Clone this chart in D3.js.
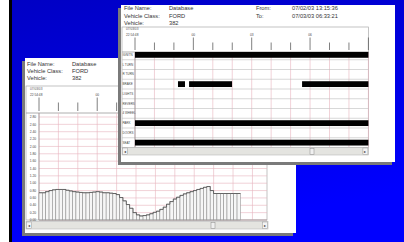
<!DOCTYPE html>
<html><head><meta charset="utf-8">
<script src="https://cdn.jsdelivr.net/npm/d3@7"></script>
<style>
body{margin:0;background:#0000e0;overflow:hidden}
svg{display:block}
text{font-family:"Liberation Sans",Arial,sans-serif}
</style>
</head><body>
<svg id="c" width="404" height="242"></svg>
<script>
// ---------- data ----------
const headerLabels = ["File Name:", "Vehicle Class:", "Vehicle:"];
const headerValues = ["Database", "FORD", "382"];
const rangeLabels = ["From:", "To:"];
const rangeValues = ["07/02/03 13:15:36", "07/03/03 06:33:21"];
const startDate = "07/03/03";
const startTime = "22:54:48";
const hourTicks = [0,1,2,3,4,5,6,7,8,9,10,11,12];
const majorHours = [3, 6, 9];
const majorLabels = ["00", "03", "06"];

// front window: digital channels
const rowLabels = ["IGNITN","L TURN","R TURN","BRAKE","LIGHTS","REVERS","4 WHEEL","PARK","DOORS","SEAT"];
const segRow   = ["IGNITN","BRAKE","BRAKE","BRAKE","PARK","SEAT"];
const segStart = [0, 2.21, 2.78, 8.59, 0, 0];
const segEnd   = [12, 2.57, 4.99, 12, 12, 12];

// back window: analog channel
const yTickLabels = ["2.80","2.60","2.40","2.20","2.00","1.80","1.60","1.40","1.20","1.00","0.80","0.60","0.40","0.20","0.00"];
const yTickValues = [2.8,2.6,2.4,2.2,2.0,1.8,1.6,1.4,1.2,1.0,0.8,0.6,0.4,0.2,0.0];
const sampleHours = 0.173;
const values = [0.74,0.74,0.77,0.80,0.82,0.83,0.83,0.83,0.81,0.79,
                0.77,0.76,0.75,0.74,0.74,0.75,0.76,0.77,0.76,0.74,
                0.74,0.73,0.72,0.69,0.61,0.52,0.42,0.32,0.20,0.14,
                0.11,0.12,0.14,0.17,0.21,0.24,0.29,0.35,0.43,0.50,
                0.57,0.62,0.67,0.71,0.74,0.77,0.80,0.83,0.86,0.89,
                0.91,0.80,0.72,0.72,0.72,0.72,0.72,0.72,0.72,0.72];

// ---------- drawing ----------
const svg = d3.select("#c");
const defs = svg.append("defs");
const grad = defs.append("linearGradient").attr("id","bg").attr("x1",0).attr("y1",0).attr("x2",0.3).attr("y2",1);
grad.append("stop").attr("offset","0%").attr("stop-color","#0000c4");
grad.append("stop").attr("offset","100%").attr("stop-color","#0000ff");
svg.append("rect").attr("width",404).attr("height",242).attr("fill","url(#bg)");
svg.append("rect").attr("x",0).attr("y",0).attr("width",9).attr("height",242).attr("fill","#fff");
svg.append("rect").attr("x",9).attr("y",0).attr("width",3).attr("height",242).attr("fill","#000");

const txtCol = "#333";
const pink = "#e7b4bd";

function header(g, x0, x1, y0) {
  headerLabels.forEach((t,i)=>{
    g.append("text").attr("x",x0).attr("y",y0+i*7.2).attr("font-size",5.7).attr("fill",txtCol).text(t);
    g.append("text").attr("x",x1).attr("y",y0+i*7.2).attr("font-size",5.7).attr("fill",txtCol).text(headerValues[i]);
  });
}

function timeHeader(g, x, left, top, dateY) {
  g.append("text").attr("x",left+4).attr("y",dateY).attr("font-size",3.2).attr("fill","#555").text(startDate);
  g.append("text").attr("x",left+4).attr("y",dateY+6).attr("font-size",3.2).attr("fill","#444").text(startTime);
  hourTicks.forEach(h=>{
    const xx = x(h);
    if (xx > x.range()[1] + 0.5) return;
    const major = (h % 3 === 0);
    g.append("line").attr("x1",xx).attr("x2",xx)
      .attr("y1", major ? dateY+7.5 : dateY+12.5).attr("y2", top)
      .attr("stroke","#555").attr("stroke-width",0.75);
  });
  majorHours.forEach((h,i)=>{
    if (x(h) > x.range()[1]) return;
    g.append("text").attr("x",x(h)).attr("y",dateY+6).attr("text-anchor","middle")
      .attr("font-size",3.2).attr("fill","#444").text(majorLabels[i]);
  });
}

function scrollbar(g, x0, x1, y, thumbX) {
  g.append("rect").attr("x",x0).attr("y",y).attr("width",x1-x0).attr("height",7.5)
    .attr("fill","#e4e4e0").attr("stroke","#b8b8b8").attr("stroke-width",0.6);
  g.append("rect").attr("x",x0+0.5).attr("y",y+0.5).attr("width",5).attr("height",6.5).attr("fill","#f4f4f4").attr("stroke","#999").attr("stroke-width",0.5);
  g.append("rect").attr("x",x1-5.5).attr("y",y+0.5).attr("width",5).attr("height",6.5).attr("fill","#f4f4f4").attr("stroke","#999").attr("stroke-width",0.5);
  g.append("text").attr("x",x0+3).attr("y",y+5.2).attr("text-anchor","middle").attr("font-size",4).attr("fill","#333").text("◂");
  g.append("text").attr("x",x1-3).attr("y",y+5.2).attr("text-anchor","middle").attr("font-size",4).attr("fill","#333").text("▸");
  g.append("rect").attr("x",thumbX).attr("y",y+0.8).attr("width",4).attr("height",6).attr("fill","#f0f0f0").attr("stroke","#888").attr("stroke-width",0.5);
}

// ===== back window =====
const back = svg.append("g");
back.append("rect").attr("x",22).attr("y",61).attr("width",271).attr("height",175).attr("fill","#7a7a7a");
back.append("rect").attr("x",25).attr("y",58).attr("width",271).attr("height",175).attr("fill","#fff");
header(back, 27, 72, 66);

const xb = d3.scaleLinear().domain([0, 11.75]).range([39, 267]);
const yb = d3.scaleLinear().domain([0, 2.8]).range([220, 117]);

back.append("rect").attr("x",26).attr("y",86).attr("width",241).attr("height",134).attr("fill","none").attr("stroke","#aaa").attr("stroke-width",0.7);
back.append("line").attr("x1",26).attr("x2",267).attr("y1",113).attr("y2",113).attr("stroke","#999").attr("stroke-width",0.8);

yTickValues.forEach(v=>{
  back.append("line").attr("x1",39).attr("x2",267).attr("y1",yb(v)).attr("y2",yb(v)).attr("stroke",pink).attr("stroke-width",0.6);
});
hourTicks.forEach(h=>{
  if (xb(h) > 267) return;
  back.append("line").attr("x1",xb(h)).attr("x2",xb(h)).attr("y1",113).attr("y2",220).attr("stroke",pink).attr("stroke-width",0.6);
});
yTickLabels.forEach((t,i)=>{
  back.append("text").attr("x",33).attr("y",yb(yTickValues[i])+1.2).attr("text-anchor","middle")
    .attr("font-size",3.3).attr("fill","#444").text(t);
});
back.append("line").attr("x1",39).attr("x2",39).attr("y1",113).attr("y2",220).attr("stroke","#888").attr("stroke-width",0.7);

back.selectAll("rect.bar").data(values).enter().append("rect").attr("class","bar")
  .attr("x",(d,i)=>xb(i*sampleHours))
  .attr("width",xb(sampleHours)-xb(0))
  .attr("y",d=>yb(d))
  .attr("height",d=>yb(0)-yb(d))
  .attr("fill","#f6f6f6").attr("stroke","#8c8c8c").attr("stroke-width",0.55);
const stepLine = d3.line().curve(d3.curveStepAfter).x(d=>xb(d[0])).y(d=>yb(d[1]));
const stepPts = values.map((v,i)=>[i*sampleHours, v]).concat([[values.length*sampleHours, values[values.length-1]]]);
back.append("path").attr("d",stepLine(stepPts)).attr("fill","none").attr("stroke","#555").attr("stroke-width",0.85);
back.append("line").attr("x1",39).attr("x2",267).attr("y1",220).attr("y2",220).attr("stroke","#999").attr("stroke-width",0.7);

timeHeader(back, xb, 26, 111, 90);
scrollbar(back, 26, 268, 221.5, 211);

// ===== front window =====
const front = svg.append("g");
front.append("rect").attr("x",118).attr("y",8).attr("width",274).attr("height",157).attr("fill","#7a7a7a");
front.append("rect").attr("x",121).attr("y",5).attr("width",274).attr("height",157).attr("fill","#fff");
header(front, 124, 169, 10.3);
rangeLabels.forEach((t,i)=>{
  front.append("text").attr("x",256).attr("y",10.3+i*7.2).attr("font-size",5.7).attr("fill",txtCol).text(t);
  front.append("text").attr("x",292).attr("y",10.3+i*7.2).attr("font-size",5.7).attr("fill",txtCol).text(rangeValues[i]);
});

const xf = d3.scaleLinear().domain([0, 12]).range([135, 368.4]);
const yf = d3.scaleBand().domain(rowLabels).range([50, 147.5]);

front.append("rect").attr("x",122).attr("y",27).attr("width",246.4).attr("height",120.5).attr("fill","none").attr("stroke","#aaa").attr("stroke-width",0.7);
front.append("line").attr("x1",122).attr("x2",368.4).attr("y1",52).attr("y2",52).attr("stroke","#999").attr("stroke-width",0.8);

hourTicks.forEach(h=>{
  front.append("line").attr("x1",xf(h)).attr("x2",xf(h)).attr("y1",52).attr("y2",147.5).attr("stroke",pink).attr("stroke-width",0.6);
});
rowLabels.forEach((r,i)=>{
  const yy = yf(r) + yf.bandwidth();
  if (i < rowLabels.length-1)
    front.append("line").attr("x1",122).attr("x2",368.4).attr("y1",yy).attr("y2",yy).attr("stroke","#bdbdbd").attr("stroke-width",0.6);
  front.append("text").attr("x",122.5).attr("y",yf(r)+yf.bandwidth()/2+1.1).attr("font-size",3).attr("fill","#444").text(r);
});
front.append("line").attr("x1",135).attr("x2",135).attr("y1",52).attr("y2",147.5).attr("stroke","#888").attr("stroke-width",0.7);

front.selectAll("rect.seg").data(segRow).enter().append("rect").attr("class","seg")
  .attr("x",(d,i)=>xf(segStart[i]))
  .attr("width",(d,i)=>xf(segEnd[i])-xf(segStart[i]))
  .attr("y",d=>yf(d)+yf.bandwidth()/2-2.9)
  .attr("height",5.8)
  .attr("fill","#000");

timeHeader(front, xf, 122, 50, 30);
scrollbar(front, 122, 368.4, 147.5, 310);
</script>
</body></html>
